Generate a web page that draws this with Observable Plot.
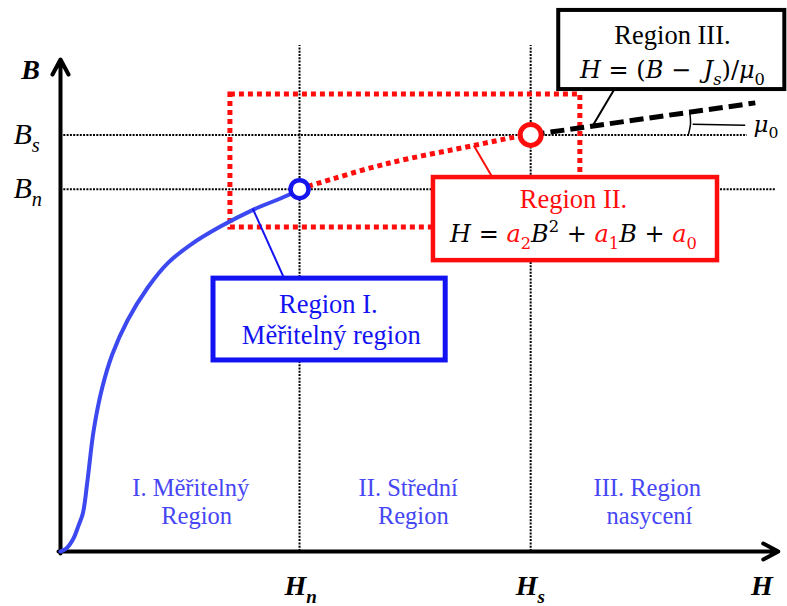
<!DOCTYPE html>
<html>
<head>
<meta charset="utf-8">
<script src="https://cdn.jsdelivr.net/npm/d3@7"></script>
<script src="https://cdn.jsdelivr.net/npm/@observablehq/plot@0.6"></script>
<style>
  body { margin: 0; background: #fff; }
  #chart svg { display: block; }
</style>
</head>
<body>
<div id="chart"></div>
<script>
// Knee points of the B–H curve
const Hn = 3.32, Hs = 6.53;
const Bn = 1.47, Bs = 1.69;

// Region I – measurable part of the magnetisation curve
const regionI_H = [0, 0.08, 0.18, 0.25, 0.31, 0.375, 0.46, 0.58, 0.72, 0.93, 1.21, 1.49, 1.81, 2.22, 2.68, 3.15, Hn];
const regionI_B = [0, 0.012, 0.053, 0.105, 0.154, 0.288, 0.49, 0.665, 0.80, 0.937, 1.07, 1.17, 1.245, 1.318, 1.387, 1.444, Bn];

// Region II – quadratic fit H = a2 B^2 + a1 B + a0
const regionII_H = [Hn, 3.57, 4.54, 5.74, 6.29, Hs];
const regionII_B = [Bn, 1.493, 1.574, 1.647, 1.68, Bs];

// Region III – saturation line, slope mu0
const regionIII_H = [Hs, 9.65];
const regionIII_B = [Bs, 1.82];

// Fitting window around region II
const fitWindowH = [2.36, 7.22];
const fitWindowB = [1.314, 1.854];

// Bottom labels of the three regions
const regionNames = [
  ["I. Měřitelný", "Region"],
  ["II. Střední", "Region"],
  ["III. Region", "nasycení"]
];

const blue = "#3c48f0", boxBlue = "#1212f2", red = "#ff0d0d", ink = "#000";
const serif = "Liberation Serif";
const mathFont = "DejaVu Serif";

const curve1 = regionI_H.map((h, i) => ({h, b: regionI_B[i]}));
const curve2 = regionII_H.map((h, i) => ({h, b: regionII_B[i]}));
const curve3 = regionIII_H.map((h, i) => ({h, b: regionIII_B[i]}));

// Layout of annotation boxes, leaders and labels (in H/B units)
const boxes = [
  {x1: 2.125, x2: 5.35, y1: 0.775, y2: 1.107, stroke: boxBlue, sw: 5},
  {x1: 5.18, x2: 9.125, y1: 1.18, y2: 1.517, stroke: red, sw: 4.5},
  {x1: 6.92, x2: 10.06, y1: 1.874, y2: 2.195, stroke: ink, sw: 4}
];
const leaders = [
  {x1: 2.67, y1: 1.391, x2: 3.10, y2: 1.112, stroke: boxBlue},
  {x1: 5.74, y1: 1.647, x2: 6.00, y2: 1.517, stroke: red},
  {x1: 7.40, y1: 1.731, x2: 7.69, y2: 1.874, stroke: ink}
];
const angleArc = [{h: 8.72, b: 1.69}, {h: 8.75, b: 1.735}, {h: 8.74, b: 1.78}];

// Rich text (subscripts, superscripts, mixed colours)
const rich = new Map();
function richLabel(parts) {
  const segs = parts.map(p => typeof p === "string" ? {t: p} : p);
  const key = segs.map(s => s.t).join("");
  rich.set(key, segs);
  return key;
}
const it = "italic", up = "normal";
const eqIII = richLabel([{t: "H", style: it}, {t: " = (", style: up}, {t: "B", style: it}, {t: " − \u2009", style: up},
  {t: "J", style: it}, {t: "s", style: it, sub: true}, {t: ")/", style: up}, {t: "μ", style: it}, {t: "0", style: up, sub: true}]);
const eqII = richLabel([{t: "H", style: it}, {t: " = ", style: up},
  {t: "a", style: it, fill: red}, {t: "2", style: up, fill: red, sub: true}, {t: "B", style: it}, {t: "2", style: up, sup: true},
  {t: " + ", style: up}, {t: "a", style: it, fill: red}, {t: "1", style: up, fill: red, sub: true}, {t: "B", style: it},
  {t: " + ", style: up}, {t: "a", style: it, fill: red}, {t: "0", style: up, fill: red, sub: true}]);
const labBs = richLabel(["B", {t: "s", sub: true}]);
const labBn = richLabel(["B", {t: "n", sub: true}]);
const labHn = richLabel(["H", {t: "n", sub: true}]);
const labHs = richLabel(["H", {t: "s", sub: true}]);
const labMu = richLabel([{t: "μ", style: it}, {t: "0", style: up, sub: true}]);

const boxText = [
  {text: "Region I.", x: 3.72, y: 1.002, fill: boxBlue, size: 26.5, font: serif},
  {text: "Měřitelný region", x: 3.76, y: 0.876, fill: boxBlue, size: 26.5, font: serif},
  {text: "Region II.", x: 7.125, y: 1.428, fill: red, size: 26.5, font: serif},
  {text: eqII, x: 7.125, y: 1.286, fill: ink, size: 24, font: mathFont},
  {text: "Region III.", x: 8.5, y: 2.093, fill: ink, size: 26.5, font: serif},
  {text: eqIII, x: 8.5, y: 1.951, fill: ink, size: 24, font: mathFont}
];
const regionTextX = [[1.81, 1.89], [4.83, 4.90], [8.15, 8.18]];
const regionText = regionNames.flatMap((lines, i) => lines.map((t, j) => ({
  text: t, x: regionTextX[i][j], y: j === 0 ? 0.255 : 0.143
})));

const dotted = {stroke: ink, strokeWidth: 2, strokeDasharray: "2,1.3"};

const chart = Plot.plot({
  width: 787,
  height: 606,
  marginLeft: 60,
  marginRight: 7,
  marginTop: 58,
  marginBottom: 55,
  x: {domain: [0, 10], axis: null},
  y: {domain: [0, 2], axis: null},
  marks: [
    // guide lines at the knee points
    Plot.ruleX([Hn, Hs], {y1: 0, y2: 2.053, ...dotted}),
    Plot.ruleY([Bs], {x1: 0, x2: 9.54, ...dotted}),
    Plot.ruleY([Bn], {x1: 0, x2: 9.93, ...dotted}),
    // fitting window
    Plot.rect([0], {x1: fitWindowH[0], x2: fitWindowH[1], y1: fitWindowB[0], y2: fitWindowB[1],
      fill: "none", stroke: red, strokeWidth: 5, strokeDasharray: "5,4"}),
    // axes
    Plot.arrow([0], {x1: -0.028, y1: 0, x2: 9.97, y2: 0, stroke: ink, strokeWidth: 4, headAngle: 56, headLength: 6.4}),
    Plot.arrow([0], {x1: 0, y1: -0.008, x2: 0, y2: 1.996, stroke: ink, strokeWidth: 4, headAngle: 56, headLength: 6.4}),
    // B–H curve in three regions
    Plot.line(curve1, {x: "h", y: "b", stroke: blue, strokeWidth: 4, curve: "catmull-rom"}),
    Plot.line(curve2, {x: "h", y: "b", stroke: red, strokeWidth: 5, strokeDasharray: "5,4", strokeLinecap: "butt", curve: "catmull-rom"}),
    Plot.line(curve3, {x: "h", y: "b", stroke: ink, strokeWidth: 5, strokeDasharray: "14,6", strokeLinecap: "butt"}),
    // slope angle mu0
    Plot.line(angleArc, {x: "h", y: "b", stroke: ink, strokeWidth: 1.5, curve: "natural"}),
    Plot.link([0], {x1: 8.78, y1: 1.733, x2: 9.51, y2: 1.729, stroke: ink, strokeWidth: 1.5}),
    // leaders and boxes
    Plot.link(leaders, {x1: "x1", y1: "y1", x2: "x2", y2: "y2", stroke: d => d.stroke, strokeWidth: 2}),
    ...boxes.map(b => Plot.rect([b], {x1: "x1", x2: "x2", y1: "y1", y2: "y2", fill: "white", stroke: b.stroke, strokeWidth: b.sw})),
    // knee markers
    Plot.dot([{h: Hn, b: Bn}], {x: "h", y: "b", r: 9, fill: "white", stroke: "#1515ee", strokeWidth: 4.5}),
    Plot.dot([{h: Hs, b: Bs}], {x: "h", y: "b", r: 10.5, fill: "white", stroke: red, strokeWidth: 5}),
    // texts
    ...boxText.map(d => Plot.text([d], {x: "x", y: "y", text: "text", fill: d.fill, fontFamily: d.font, fontSize: d.size})),
    Plot.text(regionText, {x: "x", y: "y", text: "text", fill: "#4646f4", fontFamily: serif, fontSize: 24.5}),
    Plot.text([labMu], {x: 9.625, y: 1.732, text: d => d, textAnchor: "start", fontFamily: mathFont, fontSize: 23, fill: ink}),
    Plot.text(["B"], {x: 0, y: 1.955, dx: -30, text: d => d, fontFamily: serif, fontSize: 28, fontWeight: "bold", fontStyle: "italic", fill: ink}),
    Plot.text([{t: labBs, v: Bs}, {t: labBn, v: Bn}], {x: 0, y: "v", dx: -47, dy: -1, text: "t", textAnchor: "start",
      fontFamily: serif, fontSize: 30, fontStyle: "italic", fill: ink}),
    Plot.text([{t: labHn, v: Hn}, {t: labHs, v: Hs}], {x: "v", y: 0, dx: -15, dy: 35, text: "t", textAnchor: "start",
      fontFamily: serif, fontSize: 28, fontWeight: "bold", fontStyle: "italic", fill: ink}),
    Plot.text(["H"], {x: 9.74, y: 0, dy: 35, text: d => d, fontFamily: serif, fontSize: 28, fontWeight: "bold", fontStyle: "italic", fill: ink})
  ]
});

document.getElementById("chart").append(chart);

// Turn keyed labels into tspans with sub/superscripts and colours
d3.select(chart).selectAll("text").each(function () {
  const segs = rich.get(this.textContent);
  if (!segs) return;
  const fs = parseFloat(getComputedStyle(this).fontSize);
  const text = d3.select(this).text(null);
  let level = 0;
  for (const s of segs) {
    const shift = s.sub ? 0.27 * fs : s.sup ? -0.42 * fs : 0;
    const ts = text.append("tspan").text(s.t).attr("dy", shift - level);
    level = shift;
    if (s.sub || s.sup) ts.attr("font-size", fs * 0.68);
    if (s.fill) ts.attr("fill", s.fill);
    if (s.style) ts.attr("font-style", s.style);
  }
});
</script>
</body>
</html>
